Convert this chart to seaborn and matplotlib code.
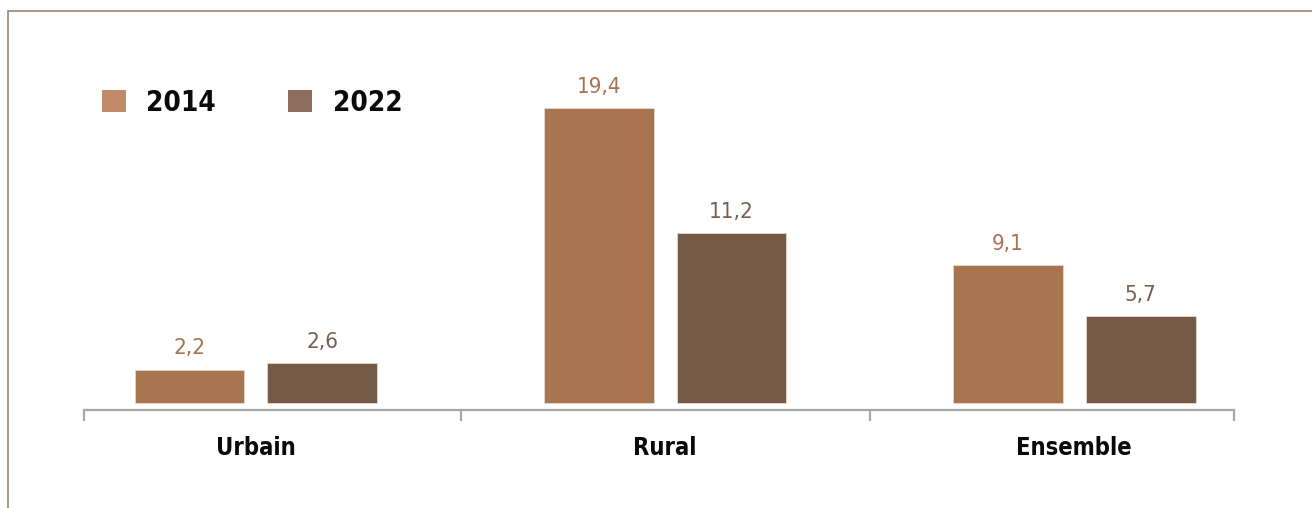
import pandas as pd
import seaborn as sns
import matplotlib.pyplot as plt
from matplotlib.lines import Line2D
from matplotlib.patches import Patch

# data
categories = ["Urbain", "Rural", "Ensemble"]
years = ["2014", "2022"]
values_2014 = [2.2, 19.4, 9.1]
values_2022 = [2.6, 11.2, 5.7]

bar_colors = ["#a87550", "#765a48"]
legend_colors = ["#c08a68", "#8d6e5c"]
label_colors = ["#a8734f", "#77604f"]

df = pd.DataFrame({
    "zone": categories * 2,
    "year": [years[0]] * 3 + [years[1]] * 3,
    "value": values_2014 + values_2022,
})

sns.set_style("white")
plt.rcParams["font.family"] = ["DejaVu Sans"]
plt.rcParams["font.stretch"] = "condensed"

W, H = 1312, 508
fig = plt.figure(figsize=(W / 100, H / 100), dpi=100)
# axes placed in pixels: left 84, right 1234, spine at y=410, top at y=30
ax = fig.add_axes([84 / W, (H - 410) / H, (1234 - 84) / W, (410 - 30) / H])

sns.barplot(data=df, x="zone", y="value", hue="year", order=categories,
            hue_order=years, palette=bar_colors, saturation=1,
            width=0.65, gap=0.173, edgecolor="#e8d8cc", linewidth=0.6, ax=ax)

for cont, col in zip(ax.containers, label_colors):
    ax.bar_label(cont, labels=[f"{v:.1f}".replace(".", ",") for v in cont.datavalues],
                 padding=8, color=col, fontsize=16, fontstretch="condensed")

ax.set_xlim(-0.4205, 2.391)
ax.set_ylim(-0.46, 24.54)
ax.set_xlabel("")
ax.set_ylabel("")
ax.set_yticks([])

for s in ["top", "left", "right"]:
    ax.spines[s].set_visible(False)
ax.spines["bottom"].set_color("#a8a8a8")
ax.spines["bottom"].set_linewidth(1.6)

ax.set_xticks(range(len(categories)))
ax.set_xticklabels(categories, fontsize=17, fontweight="bold", color="#0a0a0a")
ax.tick_params(axis="x", which="major", length=0, pad=19)
ax.set_xticks([-0.4195, 0.5, 1.5, 2.390], minor=True)
ax.tick_params(axis="x", which="minor", bottom=True, length=8, width=1.6,
               color="#a8a8a8", direction="out")

handles = [Patch(facecolor=c, edgecolor="none") for c in legend_colors]
ax.get_legend().remove()
leg = fig.legend(handles, years, loc="upper left", bbox_to_anchor=(77 / W, 1 - 64 / H),
                 ncol=2, frameon=False, handlelength=0.85, handleheight=0.85,
                 handletextpad=0.75, columnspacing=2.6,
                 prop={"size": 20, "weight": "bold", "stretch": "condensed"})
for t in leg.get_texts():
    t.set_color("#0a0a0a")

# thin frame around the panel (top and left edges visible)
fig.add_artist(Line2D([8 / W, 1], [1 - 11 / H, 1 - 11 / H], color="#a08878", lw=1.2))
fig.add_artist(Line2D([8 / W, 8 / W], [0, 1 - 11 / H], color="#a08878", lw=1.2))

fig.savefig("out.png", dpi=100)
